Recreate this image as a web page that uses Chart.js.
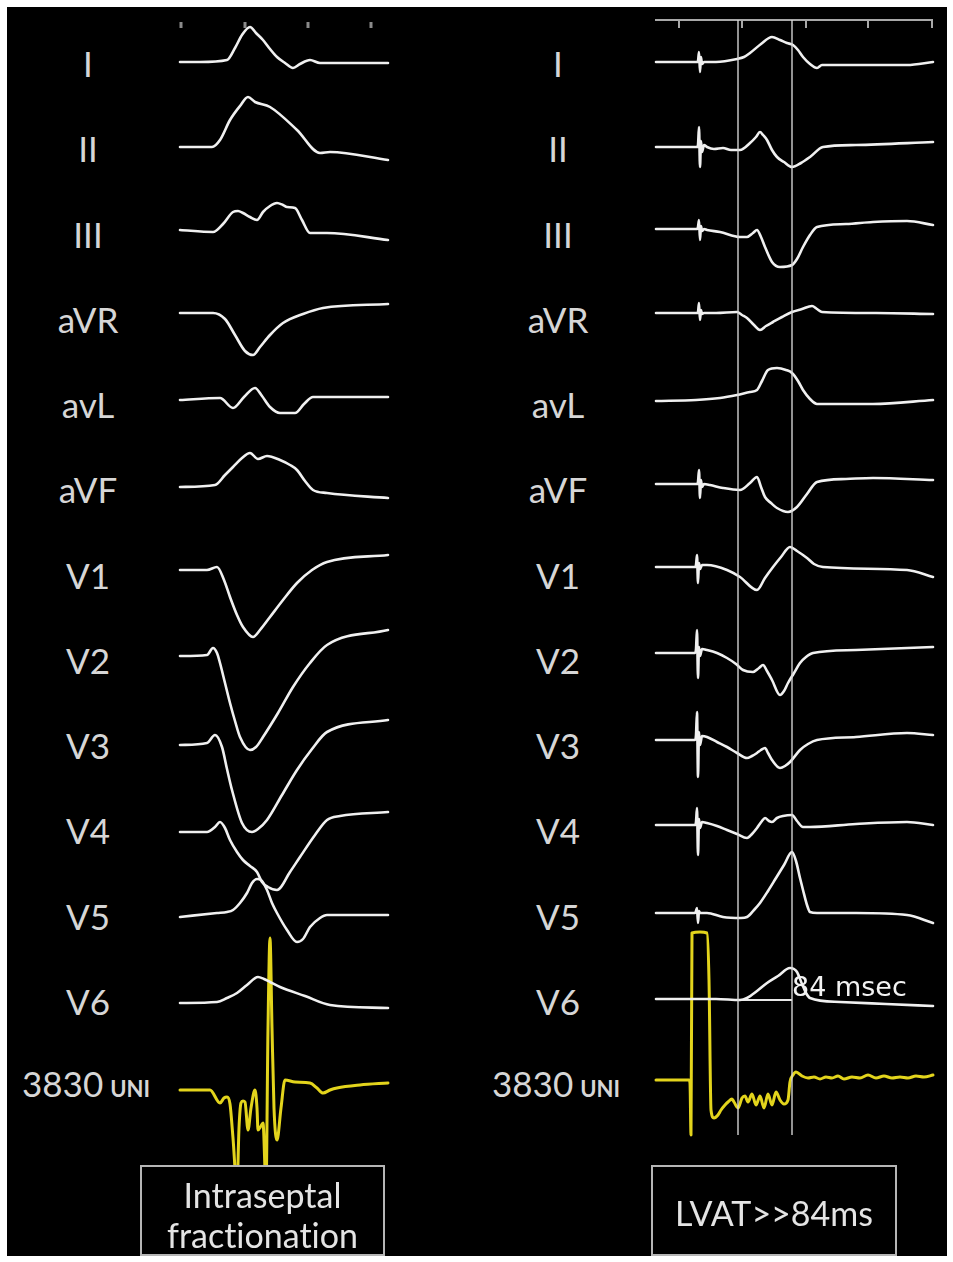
<!DOCTYPE html>
<html><head><meta charset="utf-8">
<script src="https://cdn.jsdelivr.net/npm/chart.js@4.4.0/dist/chart.umd.min.js"></script>
<style>
html,body{margin:0;padding:0;background:#fff;width:953px;height:1262px;overflow:hidden;}
#frame{position:absolute;left:7px;top:7px;width:940px;height:1249px;background:#000;}
canvas{position:absolute;}
.lbl{position:absolute;color:#d6d6d6;font-family:Lato,"Open Sans",sans-serif;font-size:35px;transform:translate(-50%,-50%);white-space:nowrap;line-height:1;}
.num{position:absolute;color:#d6d6d6;font-family:Lato,"Open Sans",sans-serif;font-size:35px;white-space:nowrap;line-height:1;}
.uni{font-size:22px;font-weight:bold;margin-left:7px;}
.box{position:absolute;border:2px solid #b5b5b5;box-sizing:border-box;color:#e4e4e4;font-family:Lato,sans-serif;font-size:34px;display:flex;align-items:center;justify-content:center;text-align:center;line-height:40px;font-variant-ligatures:none;}
#msec{position:absolute;left:792px;top:973px;color:#f2f2f2;font-family:"DejaVu Sans",sans-serif;font-size:27px;line-height:1;white-space:nowrap;}
</style></head>
<body>
<div id="frame"></div>
<canvas id="cl" width="230" height="1166" style="left:170px;top:0px"></canvas>
<canvas id="cr" width="300" height="1166" style="left:646px;top:0px"></canvas>
<div id="labels"></div>
<div id="msec">84 msec</div>
<div class="box" style="left:140px;top:1165px;width:245px;height:91px;padding-top:8px;">Intraseptal<br>fractionation</div>
<div class="box" style="left:651px;top:1165px;width:246px;height:91px;padding-top:4px;">LVAT&gt;&gt;84ms</div>
<script>
// ---------- DATA (time in samples, ~1.56 ms each; amplitude in a.u., positive up) ----------
const leadNames = ['I','II','III','aVR','avL','aVF','V1','V2','V3','V4','V5','V6','3830'];

// Left panel: intraseptal fractionation
const leftI   = [[0,1],[20,1],[47,3],[55,15],[62,28],[70,36],[76,30],[83,23],[90,14],[97,6],[105,0],[113,-5],[120,-1],[130,3],[140,0],[208,0]];
const leftII  = [[0,1],[32,1],[40,8],[50,28],[60,42],[68,51],[75,46],[90,41],[117,18],[140,-5],[150,-4],[208,-12]];
const leftIII = [[0,2],[33,0],[43,8],[53,20],[58,21],[63,19],[70,15],[77,12],[83,20],[90,26],[97,29],[103,27],[107,25],[115,24],[122,12],[130,-1],[147,-1],[208,-8]];
const leftAVR = [[0,0],[33,0],[45,-6],[55,-22],[65,-38],[73,-42],[80,-34],[90,-22],[103,-10],[123,-1],[143,5],[208,9]];
const leftAVL = [[0,0],[40,2],[53,-8],[64,3],[75,12],[82,4],[90,-7],[100,-13],[115,-13],[124,-4],[133,3],[208,3]];
const leftAVF = [[0,0],[35,2],[45,12],[53,20],[62,29],[70,34],[78,28],[87,31],[100,27],[110,22],[117,17],[125,6],[133,-3],[147,-6],[208,-11]];
const leftV1  = [[0,0],[27,0],[37,3],[44,-10],[50,-27],[57,-45],[63,-57],[73,-67],[80,-60],[90,-47],[103,-30],[117,-13],[132,0],[147,8],[208,15]];
const leftV2  = [[0,-1],[27,0],[33,7],[37,2],[40,-8],[45,-28],[50,-48],[55,-66],[60,-82],[70,-95],[76,-92],[83,-82],[98,-58],[113,-32],[130,-8],[147,10],[208,25]];
const leftV3  = [[0,-1],[27,1],[35,9],[42,-3],[47,-25],[52,-46],[62,-79],[72,-88],[78,-85],[87,-76],[102,-51],[117,-26],[132,-5],[147,12],[208,24]];
const leftV4  = [[0,-2],[27,-2],[35,3],[40,8],[45,2],[50,-10],[57,-22],[63,-30],[70,-36],[77,-42],[82,-52],[88,-57],[97,-60],[110,-42],[120,-27],[135,-5],[147,10],[160,14],[208,18]];
const leftV5  = [[0,-2],[37,2],[47,3],[53,5],[60,12],[67,22],[72,32],[77,36],[81,35],[87,25],[92,12],[97,2],[107,-15],[117,-27],[123,-24],[130,-12],[140,-3],[147,0],[208,0]];
const leftV6  = [[0,-3],[37,-2],[47,2],[57,7],[67,15],[78,23],[84,21],[90,18],[100,13],[125,4],[150,-5],[208,-8]];
const left3830= [[0,-2],[30,-2],[40,-15],[44,-10],[47,-9],[50,-16],[53,-50],[57,-100],[59,-40],[61,-15],[63,-13],[65,-14],[68,-42],[71,-20],[75,-2],[77,-20],[78,-42],[81,-38],[83,-35],[86,-100],[88,60],[90,150],[92,60],[94,-20],[97,-52],[101,-20],[105,8],[115,6],[130,5],[137,0],[143,-5],[150,-2],[157,0],[180,3],[208,5]];

// Right panel: LVAT
const rightI   = [[0,0],[41,0],[42,1],[43,10],[44,-10],[45,5],[46,-2],[48,0],[60,0],[81,3],[88,5],[94,9],[105,18],[116,25],[124,22],[131,19],[137,17],[142,12],[147,5],[154,-2],[161,-6],[166,-3],[200,-3],[251,-3],[277,0]];
const rightII  = [[0,0],[41,0],[42,2],[43,20],[44,-20],[45,6],[46,-5],[48,2],[51,0],[58,-2],[67,-1],[75,-3],[84,-3],[94,4],[100,10],[104,15],[107,12],[111,7],[116,-3],[121,-10],[128,-15],[136,-20],[145,-16],[154,-10],[167,0],[200,2],[277,5]];
const rightIII = [[0,0],[41,0],[42,2],[43,9],[44,-11],[45,3],[46,-2],[48,0],[51,-1],[64,-3],[84,-8],[91,-8],[97,-4],[101,-1],[105,-8],[109,-18],[116,-33],[124,-38],[136,-36],[141,-30],[147,-18],[154,-6],[161,2],[190,5],[217,7],[251,8],[277,4]];
const rightAVR = [[0,0],[41,0],[42,1],[43,10],[44,-7],[45,3],[46,-1],[48,0],[60,0],[81,1],[86,-2],[91,-5],[98,-12],[104,-17],[110,-13],[117,-9],[126,-4],[136,1],[146,4],[156,7],[161,4],[166,1],[220,0],[277,-1]];
const rightAVL = [[0,0],[40,1],[64,3],[81,6],[94,9],[101,11],[106,20],[112,31],[121,33],[130,31],[136,28],[142,20],[147,11],[154,2],[161,-3],[217,-3],[277,1]];
const rightAVF = [[0,0],[41,0],[42,2],[43,14],[44,-14],[45,4],[46,-3],[48,0],[54,-1],[67,-4],[84,-6],[94,1],[101,7],[105,-3],[109,-13],[115,-19],[121,-24],[132,-28],[141,-23],[151,-10],[161,2],[190,5],[217,6],[277,4]];
const rightV1  = [[0,0],[39,0],[40,2],[41,12],[42,-16],[43,4],[44,-2],[46,2],[51,2],[71,-3],[84,-10],[101,-23],[109,-11],[117,0],[125,10],[134,20],[141,16],[151,9],[158,3],[167,0],[251,-3],[277,-10]];
const rightV2  = [[0,0],[39,0],[40,4],[41,23],[42,-25],[43,6],[44,-3],[46,4],[51,3],[61,0],[71,-5],[80,-11],[87,-17],[97,-19],[103,-15],[107,-12],[111,-18],[116,-27],[124,-42],[128,-38],[132,-30],[138,-20],[144,-10],[150,-4],[157,0],[200,3],[277,6]];
const rightV3  = [[0,0],[39,0],[40,5],[41,28],[42,-37],[43,8],[44,-5],[46,4],[51,3],[61,-2],[71,-7],[81,-13],[91,-18],[96,-16],[101,-13],[105,-10],[109,-8],[112,-13],[116,-20],[124,-28],[129,-26],[134,-22],[144,-10],[152,-4],[161,0],[200,3],[251,7],[277,5]];
const rightV4  = [[0,0],[39,0],[40,3],[41,17],[42,-30],[43,6],[44,-3],[46,3],[51,2],[61,-1],[71,-5],[81,-9],[91,-13],[96,-9],[101,-3],[106,4],[109,7],[113,4],[116,3],[121,7],[127,9],[136,10],[141,4],[147,-2],[154,-2],[200,1],[251,3],[277,0]];
const rightV5  = [[0,0],[39,0],[40,2],[41,5],[42,-10],[43,2],[44,0],[51,0],[67,-4],[85,-5],[91,-4],[98,3],[104,10],[112,22],[120,35],[128,48],[136,61],[140,52],[144,35],[147,23],[151,8],[154,1],[161,0],[200,0],[251,-2],[277,-10]];
const rightV6  = [[0,0],[37,0],[60,0],[84,-1],[91,1],[101,8],[111,16],[122,23],[134,31],[138,30],[141,27],[146,15],[150,6],[154,1],[184,-3],[230,-5],[277,-7]];
const right3830= [[0,0],[33,0],[34,-3],[35,-55],[36,147],[44,148],[51,147],[53,100],[55,-30],[58,-38],[62,-35],[65,-30],[69,-25],[72,-22],[76,-19],[78,-22],[82,-28],[86,-18],[89,-16],[92,-22],[96,-14],[100,-25],[104,-16],[108,-28],[112,-14],[116,-25],[120,-12],[124,-20],[128,-24],[132,-20],[134,-2],[137,5],[140,8],[146,4],[152,2],[158,3],[164,1],[170,3],[176,2],[182,4],[188,1],[196,3],[204,2],[212,5],[220,2],[228,4],[236,2],[244,3],[252,2],[260,4],[268,3],[277,5]];

// LVAT markers (samples): onset and end of LV activation, 84 ms apart
const lvatMarkers = [82, 136];
// time ruler ticks (samples, ~100 ms apart)
const leftRulerTicks  = [1, 65, 128, 191];
const rightRulerTicks = [23, 86, 150, 212, 276];

// ---------- LAYOUT ----------
const leftBase  = [63,148,232,313,400,487,570,655,744,830,915,1000,1088];
const rightBase = [62,147,229,313,401,484,567,653,740,825,913,999,1080];
const labelY = i => 63 + 85.25*i;

const leftSeries  = [leftI,leftII,leftIII,leftAVR,leftAVL,leftAVF,leftV1,leftV2,leftV3,leftV4,leftV5,leftV6,left3830];
const rightSeries = [rightI,rightII,rightIII,rightAVR,rightAVL,rightAVF,rightV1,rightV2,rightV3,rightV4,rightV5,rightV6,right3830];

// labels
const lab = document.getElementById('labels');
[[88,22],[558,492]].forEach(([cx,numLeft])=>{
  leadNames.forEach((n,i)=>{
    const d=document.createElement('div');
    if(n==='3830'){
      d.className='num';
      d.innerHTML='3830<span class="uni">UNI</span>';
      d.style.left=numLeft+'px';
      d.style.top=(labelY(i)-20)+'px';
    } else {
      d.className='lbl';
      d.textContent=n;
      d.style.left=cx+'px';
      d.style.top=labelY(i)+'px';
    }
    lab.appendChild(d);
  });
});

function makeDatasets(series, base){
  return series.map((s,i)=>({
    data: s.map(([t,a])=>({x:t, y:base[i]-a})),
    borderColor: i===12 ? '#e3d41c' : '#f0f0f0',
    borderWidth: i===12 ? 3 : 2.6,
    cubicInterpolationMode:'monotone',
    pointRadius:0,
    borderJoinStyle:'round',
    borderCapStyle:'round'
  }));
}

function rulerPlugin(ticks, withLine){
  return {
    id:'ruler',
    beforeDatasetsDraw(chart){
      const {ctx, scales:{x}} = chart;
      ctx.save();
      ctx.strokeStyle = withLine ? '#a8a8a8' : '#8a8a8a';
      ctx.lineWidth = withLine ? 2 : 3;
      if(withLine){
        ctx.beginPath();
        ctx.moveTo(x.getPixelForValue(-1),20);
        ctx.lineTo(x.getPixelForValue(277),20);
        ctx.stroke();
      }
      ticks.forEach(t=>{
        const px=x.getPixelForValue(t);
        ctx.beginPath();
        ctx.moveTo(px, withLine?19:22);
        ctx.lineTo(px, 28);
        ctx.stroke();
      });
      ctx.restore();
    }
  };
}

function opts(xmin,xmax){
  return {
    responsive:false, animation:false, devicePixelRatio:1,
    layout:{padding:0},
    plugins:{legend:{display:false}, tooltip:{enabled:false}},
    scales:{
      x:{type:'linear', display:false, min:xmin, max:xmax},
      y:{display:false, reverse:true, min:0, max:1166}
    }
  };
}

new Chart(document.getElementById('cl'), {
  type:'line',
  data:{datasets: makeDatasets(leftSeries, leftBase)},
  options: opts(-10,220),
  plugins:[rulerPlugin(leftRulerTicks,false)]
});

const rds = makeDatasets(rightSeries, rightBase);
lvatMarkers.forEach(m=>{
  rds.unshift({data:[{x:m,y:20},{x:m,y:1135}], borderColor:'rgba(215,215,215,0.85)', borderWidth:1.6, pointRadius:0, tension:0});
});
rds.push({data:[{x:lvatMarkers[0],y:rightBase[11]+1},{x:lvatMarkers[1],y:rightBase[11]+1}], borderColor:'#e8e8e8', borderWidth:2, pointRadius:0, tension:0});

new Chart(document.getElementById('cr'), {
  type:'line',
  data:{datasets: rds},
  options: opts(-10,290),
  plugins:[rulerPlugin(rightRulerTicks,true)]
});
</script>
</body></html>
